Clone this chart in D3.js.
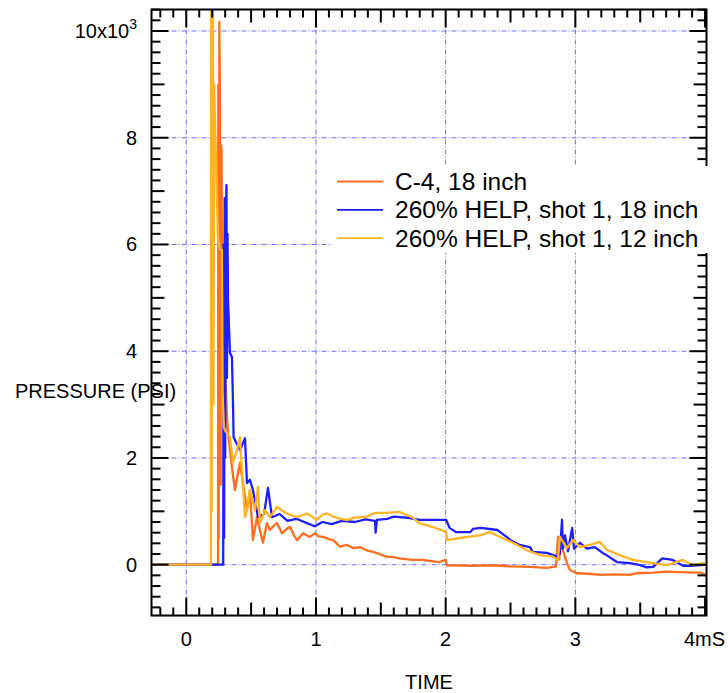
<!DOCTYPE html>
<html lang="en">
<head>
<meta charset="UTF-8">
<title>Pressure vs time</title>
<style>
  body { margin: 0; background: #fff; }
  svg { display: block; font-family: "Liberation Sans", Arial, sans-serif; }
</style>
</head>
<body>
<svg id="chart" width="728" height="693"></svg>
<script src="https://d3js.org/d3.v7.min.js"></script>
<script>
// time in mS, pressure in PSI x 10^3
var seriesNames = ["C-4, 18 inch", "260% HELP, shot 1, 18 inch", "260% HELP, shot 1, 12 inch"];
var seriesColors = ["#ff6e1e", "#1e1eff", "#ffb428"];

var timeC4 = [-0.27, 0.245, 0.247, 0.25, 0.255, 0.26, 0.265, 0.268, 0.272, 0.275, 0.283, 0.298, 0.314, 0.322, 0.352, 0.375, 0.414, 0.437, 0.468, 0.491, 0.514, 0.545, 0.591, 0.622, 0.645, 0.67, 0.699, 0.738, 0.77, 0.8, 0.83, 0.854, 0.9, 0.954, 0.993, 1.02, 1.055, 1.1, 1.133, 1.185, 1.239, 1.29, 1.339, 1.39, 1.44, 1.49, 1.542, 1.6, 1.642, 1.742, 1.819, 1.95, 2.0, 2.01, 2.2, 2.35, 2.5, 2.65, 2.78, 2.85, 2.866, 2.875, 2.885, 2.904, 2.935, 2.958, 3.012, 3.1, 3.2, 3.3, 3.42, 3.47, 3.6, 3.7, 3.8, 3.96, 4.0];
var pressC4 = [0, 0, 9.0, 0.5, 10.17, 8.5, 1.5, 7.86, 7.77, 5.52, 4.96, 3.78, 2.77, 2.47, 1.83, 1.40, 1.91, 1.53, 1.02, 1.40, 0.46, 0.89, 0.41, 0.78, 0.65, 0.72, 0.78, 0.59, 0.66, 0.71, 0.55, 0.46, 0.59, 0.52, 0.59, 0.53, 0.52, 0.48, 0.46, 0.34, 0.37, 0.31, 0.33, 0.27, 0.24, 0.2, 0.15, 0.14, 0.12, 0.09, 0.09, 0.05, 0.09, -0.01, -0.02, -0.01, -0.03, -0.04, -0.06, -0.03, 0.52, 0.1, 0.4, 0.27, 0.03, -0.1, -0.16, -0.17, -0.19, -0.18, -0.19, -0.16, -0.15, -0.13, -0.14, -0.15, -0.18];

var timeHelp18 = [-0.27, 0.285, 0.288, 0.292, 0.296, 0.3, 0.305, 0.31, 0.314, 0.318, 0.322, 0.337, 0.352, 0.36, 0.365, 0.414, 0.453, 0.468, 0.491, 0.514, 0.553, 0.6, 0.63, 0.661, 0.72, 0.78, 0.85, 0.93, 0.99, 1.05, 1.12, 1.2, 1.3, 1.38, 1.455, 1.46, 1.47, 1.55, 1.6, 1.7, 1.8, 1.95, 2.004, 2.03, 2.08, 2.19, 2.21, 2.27, 2.4, 2.42, 2.47, 2.5, 2.57, 2.65, 2.67, 2.78, 2.86, 2.88, 2.897, 2.904, 2.92, 2.943, 2.975, 2.99, 3.035, 3.09, 3.15, 3.21, 3.24, 3.32, 3.42, 3.5, 3.55, 3.6, 3.67, 3.75, 3.83, 3.9, 4.0];
var pressHelp18 = [0, 0, 6.0, 0.5, 6.87, 2.0, 6.5, 7.11, 3.5, 6.2, 4.96, 3.97, 3.89, 3.08, 2.39, 2.15, 2.37, 1.53, 1.59, 1.40, 0.89, 0.95, 1.44, 0.89, 0.95, 0.82, 0.86, 0.78, 0.72, 0.8, 0.76, 0.82, 0.8, 0.85, 0.82, 0.6, 0.84, 0.86, 0.9, 0.88, 0.84, 0.84, 0.84, 0.69, 0.61, 0.61, 0.67, 0.69, 0.65, 0.61, 0.52, 0.46, 0.37, 0.33, 0.24, 0.22, 0.15, 0.2, 0.84, 0.3, 0.55, 0.25, 0.69, 0.3, 0.41, 0.3, 0.33, 0.22, 0.18, 0.05, 0.03, -0.01, -0.05, -0.04, 0.12, 0.09, -0.02, -0.02, 0.0];

var timeHelp12 = [-0.27, 0.19, 0.191, 0.196, 0.2, 0.204, 0.206, 0.21, 0.215, 0.244, 0.26, 0.275, 0.28, 0.283, 0.29, 0.298, 0.337, 0.36, 0.391, 0.414, 0.429, 0.453, 0.468, 0.491, 0.53, 0.553, 0.568, 0.607, 0.645, 0.699, 0.776, 0.854, 0.931, 1.009, 1.05, 1.086, 1.133, 1.19, 1.239, 1.3, 1.393, 1.44, 1.486, 1.542, 1.642, 1.742, 1.796, 1.897, 2.004, 2.012, 2.11, 2.264, 2.341, 2.419, 2.519, 2.627, 2.727, 2.827, 2.866, 2.881, 2.935, 2.981, 3.035, 3.111, 3.188, 3.242, 3.342, 3.442, 3.596, 3.704, 3.827, 3.905, 3.999];
var pressHelp12 = [0, 0, 10.6, 1.0, 10.6, 8.52, 10.6, 3.0, 9.0, 6.14, 5.9, 5.9, 3.27, 3.03, 2.58, 2.52, 2.39, 1.91, 2.15, 2.39, 1.77, 0.89, 1.02, 1.40, 1.02, 1.46, 0.78, 1.02, 0.89, 1.08, 0.96, 0.89, 0.96, 0.84, 0.94, 0.96, 0.9, 0.86, 0.84, 0.88, 0.9, 0.96, 0.97, 0.97, 0.99, 0.89, 0.78, 0.71, 0.61, 0.46, 0.5, 0.55, 0.61, 0.52, 0.41, 0.27, 0.18, 0.15, 0.09, 0.52, 0.31, 0.46, 0.33, 0.37, 0.43, 0.28, 0.18, 0.09, 0.03, -0.01, 0.09, -0.01, 0.03];

var xTickValues = [0, 1, 2, 3, 4];
var xTickLabels = ["0", "1", "2", "3", "4mS"];
var yTickValues = [0, 2, 4, 6, 8, 10];
var yTickLabels = ["0", "2", "4", "6", "8", "10x10"];

var series = [
    { t: timeC4, p: pressC4 },
    { t: timeHelp18, p: pressHelp18 },
    { t: timeHelp12, p: pressHelp12 }
];

var plotLeft = 151.5, plotRight = 706.5, plotTop = 9.5, plotBottom = 615.5;
var svg = d3.select('#chart');

var x = d3.scaleLinear().domain([-0.268, 4.011]).range([plotLeft, plotRight]);
var y = d3.scaleLinear().domain([-0.952, 10.403]).range([plotBottom, plotTop]);

// grid
var grid = svg.append('g')
    .attr('stroke', '#6e6eff')
    .attr('stroke-width', 1)
    .attr('stroke-dasharray', '5,2,1,2');
grid.selectAll('.gx').data([0, 1, 2, 3]).enter().append('line')
    .attr('x1', function(d) { return x(d); }).attr('x2', function(d) { return x(d); })
    .attr('y1', plotTop).attr('y2', plotBottom);
grid.selectAll('.gy').data(yTickValues).enter().append('line')
    .attr('y1', function(d) { return y(d); }).attr('y2', function(d) { return y(d); })
    .attr('x1', plotLeft).attr('x2', plotRight);

// data
svg.append('clipPath').attr('id', 'clip').append('rect')
    .attr('x', plotLeft).attr('y', plotTop).attr('width', plotRight - plotLeft).attr('height', plotBottom - plotTop);

var line = d3.line()
    .x(function(d) { return x(d[0]); })
    .y(function(d) { return y(d[1]); });

series.forEach(function(s, i) {
    svg.append('path')
        .datum(d3.zip(s.t, s.p))
        .attr('d', line)
        .attr('clip-path', 'url(#clip)')
        .attr('fill', 'none')
        .attr('stroke', seriesColors[i])
        .attr('stroke-width', 2.3)
        .attr('stroke-linejoin', 'round');
});

// frame with ticks on all four sides
var xMinor = d3.range(-2, 41).map(function(d) { return d / 10; });
var yMinor = d3.range(-4, 53).map(function(d) { return d / 5; });

function xLen(d) {
    var v = Math.round(d * 10);
    if (v % 10 === 0) return 18;
    if (v % 5 === 0) return 13;
    return 8;
}
function yLen(d) {
    var v = Math.round(d * 5);
    if (v % 10 === 0) return 17;
    if (v % 5 === 0) return 13;
    return 9;
}

var ax = svg.append('g').attr('stroke', '#000').attr('stroke-width', 2);
xMinor.forEach(function(d) {
    ax.append('line').attr('x1', x(d)).attr('x2', x(d)).attr('y1', plotBottom).attr('y2', plotBottom - xLen(d));
    ax.append('line').attr('x1', x(d)).attr('x2', x(d)).attr('y1', plotTop).attr('y2', plotTop + xLen(d));
});
yMinor.forEach(function(d) {
    ax.append('line').attr('y1', y(d)).attr('y2', y(d)).attr('x1', plotLeft).attr('x2', plotLeft + yLen(d));
    ax.append('line').attr('y1', y(d)).attr('y2', y(d)).attr('x1', plotRight).attr('x2', plotRight - yLen(d));
});
ax.append('rect')
    .attr('x', plotLeft).attr('y', plotTop).attr('width', plotRight - plotLeft).attr('height', plotBottom - plotTop)
    .attr('fill', 'none');

// tick labels
svg.selectAll('.xl').data(xTickValues).enter().append('text')
    .attr('x', function(d) { return x(d); })
    .attr('y', 646)
    .attr('text-anchor', function(d, i) { return i === xTickValues.length - 1 ? 'end' : 'middle'; })
    .attr('dx', function(d, i) { return i === xTickValues.length - 1 ? 20 : 0; })
    .attr('font-size', 20)
    .text(function(d, i) { return xTickLabels[i]; });

var yl = svg.selectAll('.yl').data(yTickValues).enter().append('text')
    .attr('x', 137)
    .attr('y', function(d) { return y(d) + 7; })
    .attr('text-anchor', 'end')
    .attr('font-size', 20);
yl.append('tspan').text(function(d, i) { return yTickLabels[i]; });
yl.filter(function(d, i) { return i === yTickValues.length - 1; })
    .append('tspan').attr('dy', -9).attr('font-size', 14).text('3');

// axis titles
svg.append('text').attr('x', 15).attr('y', 398).attr('font-size', 20).text('PRESSURE (PSI)');
svg.append('text').attr('x', (plotLeft + plotRight) / 2).attr('y', 689).attr('text-anchor', 'middle')
    .attr('font-size', 20).text('TIME');

// legend
var lg = svg.append('g');
lg.append('rect').attr('x', 332).attr('y', 166).attr('width', 377).attr('height', 87).attr('fill', '#fff');
seriesNames.forEach(function(name, i) {
    var base = 190 + i * 28.3;
    lg.append('line').attr('x1', 337).attr('x2', 383).attr('y1', base - 8.5).attr('y2', base - 8.5)
        .attr('stroke', seriesColors[i]).attr('stroke-width', 1.8);
    lg.append('text').attr('x', 395).attr('y', base).attr('font-size', 24.5).text(name);
});
</script>
</body>
</html>
